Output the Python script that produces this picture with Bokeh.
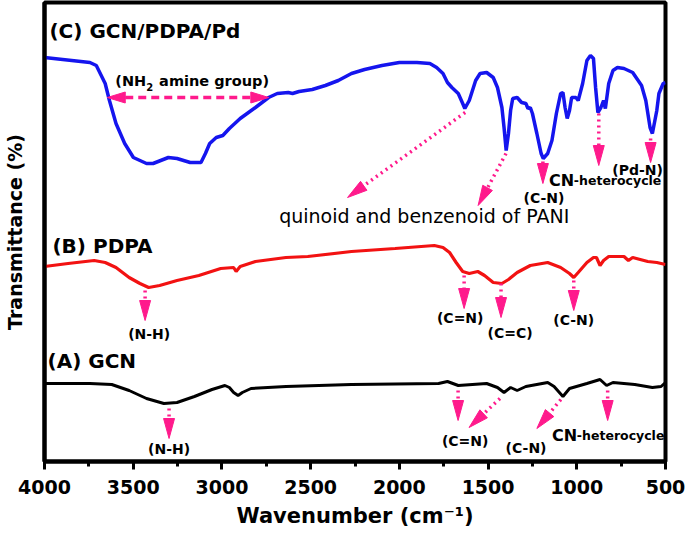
import math
from bokeh.plotting import figure
from bokeh.models import Range1d, FixedTicker, ColumnDataSource
from bokeh.core.properties import value
from bokeh.embed import file_html
from bokeh.resources import INLINE

# ---------------- data (wavenumber cm-1, transmittance a.u.) ----------------
wn_c = [4000, 3744, 3708, 3658, 3634, 3597, 3548, 3499, 3425, 3388, 3302, 3253, 3179, 3118,
        3093, 3069, 3032, 2995, 2958, 2897, 2811, 2737, 2688, 2626, 2602, 2565, 2491, 2417,
        2344, 2270, 2196, 2098, 2000, 1901, 1828, 1790, 1754, 1729, 1704, 1668, 1643, 1631,
        1606, 1570, 1545, 1508, 1471, 1447, 1422, 1410, 1398, 1385, 1373, 1361, 1336, 1311,
        1287, 1275, 1262, 1250, 1225, 1201, 1189, 1164, 1140, 1115, 1091, 1078, 1066, 1054,
        1041, 1029, 1005, 992, 967, 943, 923, 906, 894, 881, 864, 849, 839, 820, 796, 771,
        734, 685, 635, 611, 587, 574, 549, 537, 513, 500]
t_c = [404, 399, 396, 378, 361, 338, 318, 304, 298, 298, 304, 303, 299, 299,
       308, 318, 324, 326, 333, 343, 354, 364, 368, 369, 368, 370, 372, 376,
       381, 388, 392, 396, 399, 399, 398, 394, 388, 379, 374, 368, 358, 353,
       361, 381, 388, 389, 384, 374, 354, 334, 311, 328, 351, 363, 364, 359,
       358, 353, 354, 348, 328, 308, 303, 308, 321, 348, 368, 369, 354, 343,
       351, 364, 364, 361, 378, 401, 406, 403, 374, 349, 354, 361, 353, 378, 391, 394,
       393, 389, 376, 361, 334, 328, 351, 368, 378, 379]

wn_b = [4000, 3867, 3720, 3658, 3597, 3523, 3462, 3413, 3351, 3253, 3130, 3007, 2934, 2920,
        2897, 2811, 2639, 2516, 2270, 2024, 1803, 1754, 1717, 1680, 1643, 1606, 1558, 1520,
        1471, 1422, 1385, 1336, 1262, 1164, 1091, 1041, 1017, 992, 943, 906, 889, 869, 849,
        820, 734, 709, 685, 600, 549, 500]
t_b = [195, 198, 201, 199, 194, 184, 178, 174, 176, 181, 186, 193, 194, 190,
       195, 200, 204, 205, 210, 213, 216, 214, 209, 199, 190, 188, 190, 186,
       179, 178, 182, 189, 196, 199, 194, 188, 184, 189, 199, 204, 204, 196, 201,
       205, 205, 201, 204, 200, 199, 197]

wn_a = [4000, 3744, 3621, 3523, 3425, 3327, 3253, 3155, 3056, 2983, 2958, 2934, 2909, 2885,
        2836, 2638, 2270, 1779, 1729, 1668, 1508, 1447, 1410, 1373, 1336, 1287, 1164, 1128,
        1078, 1041, 943, 869, 832, 796, 673, 574, 525, 500]
t_a = [78, 78, 77, 71, 63, 58, 59, 65, 72, 76, 74, 69, 66, 69,
       73, 75, 77, 78, 80, 76, 78, 74, 69, 74, 71, 75, 79, 75,
       65, 73, 78, 82, 76, 79, 77, 74, 75, 79]

x_ticks = [4000, 3500, 3000, 2500, 2000, 1500, 1000, 500]
x_minor = [3750, 3250, 2750, 2250, 1750, 1250, 750]

panel_titles = ["(C) GCN/PDPA/Pd", "(B) PDPA", "(A) GCN"]
panel_title_x = [3972, 3955, 3983]
panel_title_y = [431, 216, 101]

# bond labels (centered)
bond_text = ["(C-N)", "(Pd-N)", "(N-H)", "(C=N)", "(C=C)", "(C-N)", "(N-H)", "(C=N)", "(C-N)"]
bond_x = [1185, 657, 3410, 1657, 1376, 1017, 3298, 1629, 1286]
bond_y = [264, 292, 128, 144, 129, 142, 13, 21, 14]

# "CN-heterocycle" labels (left aligned)
het_x = [1157, 1140]
het_y = [281, 26]

# dotted arrows: start -> tip
arr_x0 = [1629, 1399, 1191, 876, 584, 3433, 1635, 1427, 1017, 3298, 1669, 1433, 1090, 826]
arr_y0 = [349, 308, 300, 348, 323, 171, 186, 178, 181, 53, 71, 63, 62, 71]
arr_x1 = [2292, 1556, 1191, 876, 584, 3433, 1635, 1427, 1017, 3298, 1669, 1607, 1225, 826]
arr_y1 = [264, 256, 278, 296, 299, 141, 153, 144, 151, 23, 41, 34, 33, 41]

# NH2 double arrow
nh2_x = [3646, 2736]
nh2_y = 364

# ---------------- figure ----------------
FONT = "DejaVu Sans"
PINK = "#FF1A8C"
X0, X1, Y0, Y1 = 4000, 500, 0, 459
FW = 623
K = FW / (X0 - X1)  # px per cm-1

p = figure(width=685, height=539, x_range=Range1d(X0, X1), y_range=Range1d(Y0, Y1),
           output_backend="svg", toolbar_location=None,
           min_border_left=42, min_border_right=20, min_border_top=2, min_border_bottom=78)
p.grid.visible = False
p.outline_line_color = "black"
p.outline_line_width = 4
p.outline_line_alpha = 1.0
p.background_fill_color = "white"
p.border_fill_color = "white"

ax = p.xaxis[0]
ax.ticker = FixedTicker(ticks=x_ticks, minor_ticks=x_minor)
ax.axis_line_width = 4
ax.major_tick_out = 8
ax.major_tick_in = 0
ax.minor_tick_out = 5
ax.minor_tick_in = 0
ax.major_tick_line_width = 3
ax.minor_tick_line_width = 3
ax.major_label_text_font = FONT
ax.major_label_text_font_style = "bold"
ax.major_label_text_font_size = "19px"
ax.major_label_text_color = "black"
ax.major_label_standoff = 10
ax.axis_label = "Wavenumber (cm\u207b\u00b9)"
ax.axis_label_text_font = FONT
ax.axis_label_text_font_style = "bold"
ax.axis_label_text_font_size = "21px"
ax.axis_label_text_color = "black"
ax.axis_label_standoff = 7

ay = p.yaxis[0]
ay.ticker = FixedTicker(ticks=[], minor_ticks=[])
ay.axis_line_width = 4
ay.major_tick_out = 0
ay.major_tick_in = 0
ay.minor_tick_out = 0
ay.minor_tick_in = 0
ay.major_label_text_font_size = "0px"
ay.axis_label = "Transmittance (%)"
ay.axis_label_text_font = FONT
ay.axis_label_text_font_style = "bold"
ay.axis_label_text_font_size = "19px"
ay.axis_label_text_color = "black"
ay.axis_label_standoff = 19

# spectra
p.line(wn_c, t_c, line_color="#1515EE", line_width=3.5)
p.line(wn_b, t_b, line_color="#F21212", line_width=3.2)
p.line(wn_a, t_a, line_color="black", line_width=3)


def head(x0, y0, x1, y1, L=20.0, H=5.5):
    dx = -(x1 - x0) * K
    dy = (y1 - y0)
    d = math.hypot(dx, dy)
    ux, uy = dx / d, dy / d
    xb = x1 + L * ux / K
    yb = y1 - L * uy
    xs = [x1, xb + H * uy / K, xb - H * uy / K]
    ys = [y1, yb + H * ux, yb - H * ux]
    return xb, yb, xs, ys


lx, ly, hx, hy = [], [], [], []
for a, b, c, d in zip(arr_x0, arr_y0, arr_x1, arr_y1):
    xb, yb, xs, ys = head(a, b, c, d)
    lx.append([a, xb])
    ly.append([b, yb])
    hx.append(xs)
    hy.append(ys)
p.multi_line(lx, ly, line_color=PINK, line_width=3.5, line_dash="2 4")
p.patches(hx, hy, fill_color=PINK, line_color=PINK, line_width=1)

# NH2 double arrow
xbL, ybL, xsL, ysL = head(nh2_x[1], nh2_y, nh2_x[0], nh2_y, L=18, H=5.5)
xbR, ybR, xsR, ysR = head(nh2_x[0], nh2_y, nh2_x[1], nh2_y, L=18, H=5.5)
p.line([xbL, xbR], [nh2_y, nh2_y], line_color=PINK, line_width=3.5, line_dash="8 5")
p.patches([xsL, xsR], [ysL, ysR], fill_color=PINK, line_color=PINK, line_width=1)

# texts
p.text(panel_title_x, panel_title_y, text=panel_titles, text_font=value(FONT),
       text_font_style="bold", text_font_size="20px", text_align="left",
       text_baseline="middle", text_color="black")
p.text(bond_x, bond_y, text=bond_text, text_font=value(FONT), text_font_style="bold",
       text_font_size="14px", text_align="center", text_baseline="middle", text_color="black")
p.text(het_x, het_y, text=["CN", "CN"], text_font=value(FONT), text_font_style="bold",
       text_font_size="16px", text_align="left", text_baseline="middle", text_color="black")
p.text([x - 25 / K for x in het_x], het_y, text=["-heterocycle", "-heterocycle"],
       text_font=value(FONT), text_font_style="bold", text_font_size="12.5px",
       text_align="left", text_baseline="middle", text_color="black")
p.text([1860], [246], text=["quinoid and benzenoid of PANI"], text_font=value(FONT),
       text_font_size="19px", text_align="center", text_baseline="middle", text_color="black")
# (NH2 amine group)
p.text([3601], [381], text=["(NH"], text_font=value(FONT), text_font_style="bold",
       text_font_size="14.5px", text_align="left", text_baseline="middle", text_color="black")
p.text([3427], [375], text=["2"], text_font=value(FONT), text_font_style="bold",
       text_font_size="10px", text_align="left", text_baseline="middle", text_color="black")
p.text([3354], [381], text=["amine group)"], text_font=value(FONT), text_font_style="bold",
       text_font_size="14.5px", text_align="left", text_baseline="middle", text_color="black")

open("out.html", "w").write(file_html(p, INLINE))
